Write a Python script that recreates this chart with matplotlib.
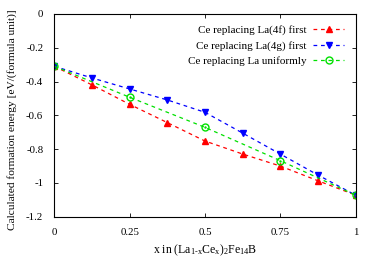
import matplotlib
matplotlib.use("Agg")
import matplotlib.pyplot as plt

plt.rcParams['font.family'] = ['Liberation Serif', 'DejaVu Serif']
plt.rcParams['mathtext.fontset'] = 'custom'
plt.rcParams['mathtext.rm'] = 'Liberation Serif'
plt.rcParams['mathtext.it'] = 'Liberation Serif'
plt.rcParams['font.size'] = 8

# data
x_4f = [0, 0.125, 0.25, 0.375, 0.5, 0.625, 0.75, 0.875, 1]
e_4f = [-0.31, -0.42, -0.535, -0.643, -0.752, -0.829, -0.90, -0.987, -1.072]
x_4g = [0, 0.125, 0.25, 0.375, 0.5, 0.625, 0.75, 0.875, 1]
e_4g = [-0.31, -0.379, -0.444, -0.509, -0.582, -0.705, -0.829, -0.953, -1.072]
x_uni = [0, 0.25, 0.5, 0.75, 1]
e_uni = [-0.31, -0.493, -0.671, -0.868, -1.072]

xticks = [0, 0.25, 0.5, 0.75, 1]
xticklabels = ["0", "0.25", "0.5", "0.75", "1"]
yticks = [0, -0.2, -0.4, -0.6, -0.8, -1, -1.2]
yticklabels = ["0", "-0.2", "-0.4", "-0.6", "-0.8", "-1", "-1.2"]

fig = plt.figure(figsize=(3.75, 2.63), dpi=100)
ax = fig.add_axes([0.145, 0.176, 0.803, 0.771])

dash = (0, (3, 3))
ax.plot(x_4f, e_4f, color='#ff0000', ls=dash, lw=0.9, marker='^', ms=5,
        label='Ce replacing La(4f) first')
ax.plot(x_4g, e_4g, color='#0000ff', ls=dash, lw=0.9, marker='v', ms=5,
        label='Ce replacing La(4g) first')
ax.plot(x_uni, e_uni, color='#00e000', ls=dash, lw=0.9, marker='o', ms=5,
        mfc='none', mew=1.0, label='Ce replacing La uniformly')
ax.plot(x_uni, e_uni, ls='none', color='#00e000', marker='.', ms=1.5)

ax.set_xlim(0, 1)
ax.set_ylim(-1.2, 0)
ax.set_xticks(xticks)
ax.set_xticklabels(xticklabels)
ax.set_yticks(yticks)
ax.set_yticklabels(yticklabels)
ax.tick_params(direction='in', length=3, width=0.6, top=True, right=True,
               pad=8, labelsize=7.8)
for s in ax.spines.values():
    s.set_linewidth(0.8)

ax.set_xlabel(r'x in (La$_{1\text{-}x}$Ce$_{x}$)$_2$Fe$_{14}$B', labelpad=4,
              fontsize=8.5)
ax.set_ylabel('Calculated formation energy [eV/(formula unit)]', labelpad=6,
              fontsize=8.2)
ax.yaxis.set_label_coords(-0.125, 0.48)

ax.legend(loc='upper right', frameon=False, markerfirst=False,
          handlelength=2.8, handletextpad=0.6, labelspacing=0.5,
          borderaxespad=0.5, borderpad=0.5)

fig.savefig('out.png', dpi=100)
